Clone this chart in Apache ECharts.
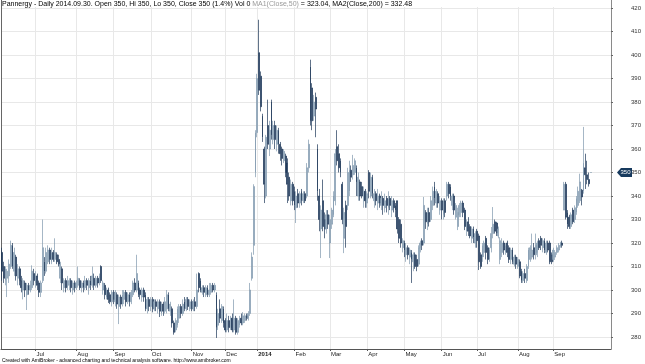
<!DOCTYPE html>
<html><head><meta charset="utf-8">
<script src="https://cdn.jsdelivr.net/npm/echarts@6/dist/echarts.min.js"></script>
<style>html,body{margin:0;padding:0;background:#fff}#c{width:645px;height:364px}</style>
</head><body><div id="c"></div>
<script>
// ---- calendar (trading days of the Warsaw exchange) ----
const startDay = [2013, 5, 4];   // 2013-06-04
const endDay = [2014, 8, 30];    // 2014-09-30
const holidays = ['2013-08-15','2013-11-01','2013-11-11','2013-12-24','2013-12-25','2013-12-26','2013-12-31',
  '2014-01-01','2014-01-06','2014-04-21','2014-05-01','2014-06-19','2014-08-15'];
const emptySlots = 11;
const monthNames = ['Jan','Feb','Mar','Apr','May','Jun','Jul','Aug','Sep','Oct','Nov','Dec'];

// ---- prices ----
const openPrices = [
316,310,304,305,306,310,319,308,314,305, 309,304,300,303,298,302,300,301,307,303,
306,303,299,304,312,308,312,317,312,316, 313,315,313,305,309,301,304,301,302,304,
300,303,301,302,304,301,303,301,304,301, 304,302,305,302,305,303,310,300,302,297,
300,298,295,299,295,298,293,297,294,296, 299,295,298,295,298,303,300,303,300,297,
300,298,292,296,293,296,292,295,292,295, 290,294,291,292,298,291,292,286,283,285,
288,293,290,295,292,296,292,295,292,295, 293,307,304,299,301,298,301,298,299,302,
300,298,285,292,287,292,287,283,287,284, 288,283,288,282,285,288,286,287,289,288,
290,305,319,350,367,401,391,374,360,340, 370,360,380,364,370,362,368,362,360,355,
357,354,348,338,345,342,335,341,337,342, 338,341,340,352,395,386,374,382,360,340,
326,338,330,326,332,320,328,332,338,361, 358,355,345,322,336,336,342,351,349,350,
352,340,346,344,338,342,337,350,340,348, 338,341,337,340,336,339,335,339,335,339,
334,338,336,338,330,328,318,320,315,318, 314,316,312,315,313,311,318,321,320,333,
328,333,330,336,344,337,341,334,338,332, 338,340,345,344,336,340,331,327,
332,333,337,334,325,329,327,322,326,320, 325,323,315,314,316,322,318,313,318,324,
329,328.5,323,313,316,320,316,320,318,313, 317,311,314,310,312,308,304,307,304,310,
313,314,318,315,316,321,322,318,321,316, 320,320,315,313,314,316,317,
318.5,320,334,345,333,331,327,334,330,333, 336,338,342.5,342,352,349,347,350];
const closePrices = [
308,305,309,308,311,319,310,316,306,309, 304,301,304,300,302,300,302,308,304,306,
302,299,303,318,308,316,317,313,316,313, 316,312,311,311,303,304,301,304,304,301,
303,301,303,305,301,303,301,304,302,304, 302,306,302,305,303,306,304,303,298,300,
296,295,299,296,299,294,297,294,298,299, 295,298,295,299,303,300,307,298,298,300,
297,292,296,293,296,292,295,293,295,291, 294,291,295,298,292,294,286,282,287,292,
293,290,294,292,296,293,295,292,295,293, 300,301,300,301,299,301,298,300,302,300,
302,284,290,288,293,286,283,287,284,288, 283,288,282,287,288,286,289,289,288,290,
300,314,344,367,390,385,378,365,345,365, 362,368,366,370,364,368,362,358,356,359,
350,345,340,345,338,336,340,337,341,338, 341,338,352,362,372,372,380,377,342,330,
334,327,326,332,328,330,334,340,358,355, 352,350,330,333,327,350,351,348,353,355,
346,348,340,340,342,338,341,342,348,341, 341,338,340,337,339,336,338,336,339,336,
338,335,334,326,322,320,321,317,318,315, 317,313,315,310,310,318,320,319,336,329,
333,329,338,342,339,342,337,338,334,338, 333,345,341,340,340,334,336,333,
336,337,333,327,329,325,323,326,322.5,324, 321,312,310,319,320,316,313,317,324,328,
325,324.3,326,321,320,317,319,316,313,317, 312,314,311,313,306,304,307,305,310,317,
318,317,315,319,320,318,319,321,317,320, 317,312,312,317,316,318,319,
320,319,345,331,328,327,332,329,335,339, 342,346,339.6,354,349,347,345.2,350];
const lowPrices = [
304,303,302,297,303,309,309,306,304,302, 302,299,296,297,291.5,298,299,300,302,301,
300,297,297,303,306,307,311,311,311,312, 312,311,310,303,300,299,299,300,300,299,
298,299,300,301,300,299,299,300,300,298, 300,301,300,301,301,302,303,298,296,296,
294.5,294,293,294,293,292,285.5,292,293,294, 293,294,293,294,297,299,299,297,296,295,
295,291,290,291,291,290.5,291,291,290,288.5, 289,289,290,290,291,289,284,281,282,284,
286,288,289,291,291,291.5,291,291,291,291, 292,299,299,298,297,297,297,297,298,299,
299,279.6,283,286,286,284,282,282,282,283, 282,282,281,281,284,285,285,286,287,287,
289,304,315,348,365,383,376,363,337,339, 360,357,364,362,360,359,358,355,353,354,
348,337,338,336,336,334,328.5,335,335,336, 337,337,339,350,370,368,372,365,338,325,
313.6,325,322,324,326,313.6,326,331,336,353, 350,348,328,315.7,318,334,340,346,347,349,
340,338,338,339,335,335,335,339,339,339, 335,336,334,335,334,332,333,333,332,334,
331,333,331,324,320,318,316,314,312,313, 311,303,308,309,308,310,316,317,319,326,
325.5,327,329,334,336,335,335,332,330,330, 331,338,339,338,334,332,330,325.5,
331,331,331,325.5,323,323,322,320,320,318, 318,308.5,309,312,314,313,311,312,316,322,
324,323,322,311,314,315,315,314,311.5,311, 311,310,309,309,305,303,303,303,303,309,
312,313,313,313,314,317,317,316,315.7,315, 316,311,311,312,312.8,315,316,
318,318,334,330,326,326,326,328,328.5,332, 335,337,336,341,343,345,344,350];
const highPrices = [
318,312,310,309,313,321,320,318,315,311, 310,306,305,304,303,303,304,310.5,309,308,
307,304,304,330,314,318,319,318,318,317, 322,316,315,312,310,305,305,306,305,305,
304,304,304,310,305,304,304,306,305,305, 306,310,307,306,306,307,310.5,304,303,301,
301,299,300,300,300,299,298,298,300,300, 300,299,299,300,304,305,315,304,301,301,
301,299,297,297,297,297,296,296,296,296, 295,295,297,300,299,295,293,287,288,293,
294,294,296,297,297,297,296,296,296,297, 307,307.5,305,302,302,302,302,303,303,303,
303,299,292,296,294,293,288,290,289,289, 290,296,289,288,289,290,290.6,290,290,291,
303,316,345,368,392,415,393,375,361,366, 381,372,381,372,372,370,369,363,361,360,
358,356,350,347,346,344,342,343,342,343, 342,342,354,364,398,388,383,384,362,343,
336,347,333,334,334,332,335,342,360,368, 362,356,346,335,338,352,355,353,357.5,356,
353,350,347,346,344,343,342,351,350,349, 343,342,343,341,342,340,341,340,342,340,
340,339,337,338,331,330,322,321,320,319, 318,317,316,316,315,319,321,322,339.6,334,
335,335,340,344,346,343,342,340,339,339, 339,346,346,345,341,341,337,335,
337,338,338,335,330,331,328,327,327,325, 326,324,316,320,321,323,319,318,326.8,335.3,
330,329,327,322.5,322,321,320,321,319,318, 318,315,315,314,313,309,308,309,311,318,
319,324,320,324,321,322,323,322,322,321, 321,321,316,318,317,319,320,
320.5,321,346,346,334,332,333,335,336,340, 344,349.5,343,369.4,358,355,350,350];

const yTicks = [280,290,300,310,320,330,340,350,360,370,380,390,400,410,420];
const lastClose = 350;
const headerMain = 'Pannergy - Daily 2014.09.30. Open 350, Hi 350, Lo 350, Close 350 (1.4%) Vol 0 ';
const headerMA1 = 'MA1(Close,50)';
const headerRest = ' = 323.04, MA2(Close,200) = 332.48';
const footer = 'Created with AmiBroker - advanced charting and technical analysis software. http://www.amibroker.com';

// ---- build categories ----
function buildDays() {
  const out = [];
  const d = new Date(Date.UTC(startDay[0], startDay[1], startDay[2]));
  const end = Date.UTC(endDay[0], endDay[1], endDay[2]);
  while (d.getTime() <= end) {
    const wd = d.getUTCDay();
    const s = d.toISOString().slice(0, 10);
    if (wd !== 0 && wd !== 6 && holidays.indexOf(s) < 0) out.push(s);
    d.setUTCDate(d.getUTCDate() + 1);
  }
  return out;
}
const days = buildDays();
const categories = days.slice();
for (let i = 0; i < emptySlots; i++) categories.push('');
const monthStart = categories.map((s, i) => i > 0 && s !== '' && s.slice(5, 7) !== categories[i - 1].slice(5, 7));
function monthLabel(i) {
  const s = categories[i];
  const m = +s.slice(5, 7) - 1;
  return m === 0 ? '{b|' + s.slice(0, 4) + '}' : monthNames[m];
}
const candleData = categories.map((s, i) => i < closePrices.length
  ? [openPrices[i], closePrices[i], lowPrices[i], highPrices[i]] : '-');
const isTick = (idx) => !!monthStart[idx];

const chart = echarts.init(document.getElementById('c'), null, {renderer: 'canvas'});
const FONT = '"Liberation Sans", Arial, sans-serif';
chart.setOption({
  animation: false,
  backgroundColor: '#fff',
  textStyle: {fontFamily: FONT},
  title: [{
    left: 2, top: 1, padding: 0,
    text: '{a|' + headerMain + '}{g|' + headerMA1 + '}{a|' + headerRest + '}',
    textStyle: {fontWeight: 'normal', fontSize: 7, rich: {
      a: {fontSize: 7, color: '#000', fontWeight: 'normal', fontFamily: FONT},
      g: {fontSize: 7, color: '#9a9a9a', fontWeight: 'normal', fontFamily: FONT}
    }}
  }, {
    left: 2, top: 358, padding: 0,
    text: footer,
    textStyle: {fontSize: 5, color: '#000', fontWeight: 'normal', fontFamily: FONT}
  }],
  grid: {left: 1, right: 34, top: 0, height: 349, containLabel: false},
  xAxis: {
    type: 'category', data: categories, boundaryGap: true,
    axisLine: {show: true, lineStyle: {color: '#555', width: 1}},
    axisTick: {show: true, interval: isTick, alignWithLabel: true, length: 2, lineStyle: {color: '#555'}},
    axisLabel: {
      interval: isTick, formatter: (v, i) => monthLabel(i), align: 'left', margin: 2,
      fontSize: 6, color: '#222', fontFamily: FONT, padding: [0, 0, 0, 1],
      rich: {b: {fontSize: 6, fontWeight: 'bold', color: '#222', fontFamily: FONT}}
    },
    splitLine: {show: true, interval: isTick, alignWithLabel: true, lineStyle: {color: '#e8e8e8', width: 1}}
  },
  yAxis: [{
    type: 'value', position: 'right', min: 274.9, max: 423.4, scale: true,
    axisLine: {show: true, lineStyle: {color: '#8a8a8a'}},
    axisTick: {show: true, customValues: yTicks, length: 2, lineStyle: {color: '#666'}},
    axisLabel: {customValues: yTicks, fontSize: 6, color: '#333', margin: 20, align: 'left', fontFamily: FONT},
    splitLine: {show: true, lineStyle: {color: '#e8e8e8', width: 1}}
  }, {
    type: 'value', position: 'left', min: 274.9, max: 423.4,
    axisLine: {show: true, onZero: false, lineStyle: {color: '#666'}},
    axisTick: {show: false}, axisLabel: {show: false}, splitLine: {show: false}
  }],
  series: [{
    type: 'candlestick', yAxisIndex: 0, data: candleData, barWidth: '75%',
    itemStyle: {color: '#a3b7c8', color0: '#1c3658', borderColor: '#7f98ae', borderColor0: '#1c3658', borderWidth: 0.7}
  }]
});

const py = chart.convertToPixel({yAxisIndex: 0}, lastClose);
chart.setOption({
  graphic: [
    {type: 'rect', z: 1, silent: true, shape: {x: 2, y: 0, width: 608, height: 7}, style: {fill: '#fff'}},
    {type: 'polygon', z: 10, shape: {points: [[617, py], [621, py - 4.5], [632, py - 4.5], [632, py + 4.5], [621, py + 4.5]]},
      style: {fill: '#173a5e'}},
    {type: 'text', z: 11, x: 625.5, y: py, style: {text: String(lastClose), fill: '#fff', fontSize: 6, fontFamily: FONT,
      align: 'center', verticalAlign: 'middle'}}
  ]
});
</script></body></html>
